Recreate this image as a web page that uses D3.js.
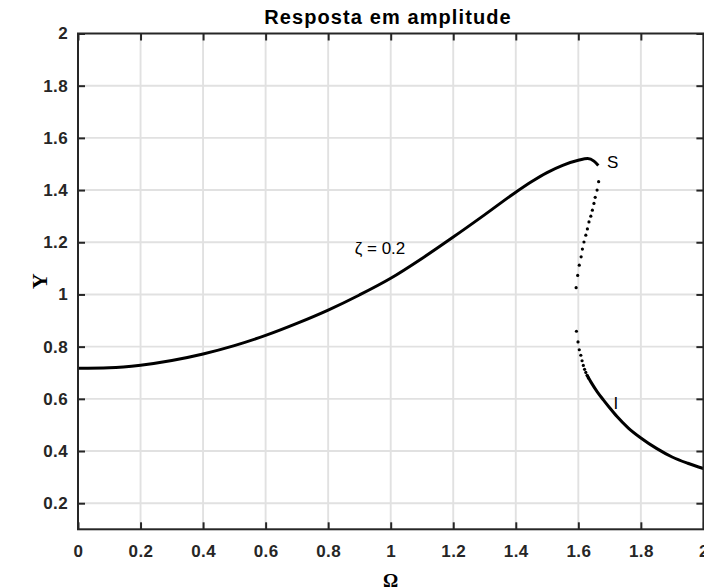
<!DOCTYPE html>
<html>
<head>
<meta charset="utf-8">
<script src="https://cdn.jsdelivr.net/npm/d3@7"></script>
<style>
  body { margin: 0; background: #fff; }
  svg { display: block; }
  .tick text { font-family: "Liberation Sans", Arial, sans-serif; font-weight: bold; font-size: 17px; letter-spacing: 0.4px; fill: #262626; }
</style>
</head>
<body>
<div id="chart"></div>
<script>
////////////////////////////////////////////////////////////////////////
// Data

// stable upper branch (drawn as a line)
let upperOmega = [0, 0.1, 0.2, 0.3, 0.4, 0.5, 0.6, 0.7, 0.8, 0.9, 1.0, 1.1, 1.2, 1.3, 1.4, 1.45, 1.5, 1.55, 1.6, 1.63, 1.65, 1.664];
let upperY     = [0.717, 0.719, 0.729, 0.747, 0.772, 0.804, 0.843, 0.889, 0.940, 0.998, 1.062, 1.138, 1.220, 1.305, 1.392, 1.432, 1.467, 1.495, 1.514, 1.521, 1.511, 1.494];

// unstable branch (dots)
let midOmega = [1.665, 1.660, 1.654, 1.650, 1.645, 1.640, 1.634, 1.629, 1.624, 1.618, 1.613, 1.609, 1.603, 1.598, 1.593];
let midY     = [1.432, 1.400, 1.372, 1.349, 1.323, 1.300, 1.278, 1.251, 1.227, 1.201, 1.174, 1.144, 1.112, 1.073, 1.026];

// start of lower branch (dots)
let lowDotOmega = [1.594, 1.599, 1.603, 1.608, 1.612, 1.616, 1.620, 1.624, 1.628, 1.632];
let lowDotY     = [0.859, 0.818, 0.788, 0.767, 0.746, 0.728, 0.713, 0.701, 0.690, 0.680];

// stable lower branch (line)
let lowOmega = [1.628, 1.64, 1.66, 1.68, 1.70, 1.723, 1.76, 1.80, 1.85, 1.90, 1.95, 2.0];
let lowY     = [0.690, 0.665, 0.628, 0.596, 0.566, 0.533, 0.488, 0.450, 0.410, 0.377, 0.353, 0.333];

let xTicks = [0, 0.2, 0.4, 0.6, 0.8, 1, 1.2, 1.4, 1.6, 1.8, 2];
let yTicks = [0.2, 0.4, 0.6, 0.8, 1, 1.2, 1.4, 1.6, 1.8, 2];

////////////////////////////////////////////////////////////////////////
// svg + scales

let width = 704, height = 588;
let pLeft = 78, pRight = 703.4, pTop = 33.5, pBottom = 529.3;

let svg = d3.select("#chart").append("svg")
  .attr("width", width).attr("height", height);

let xScale = d3.scaleLinear().domain([0, 2]).range([pLeft, pRight]);
let yScale = d3.scaleLinear().domain([0.1, 2]).range([pBottom, pTop]);

let fmt = function(d) { return String(+d.toFixed(1)); };

// grid
svg.append("g").selectAll("line")
  .data(xTicks.slice(1, -1))
  .enter().append("line")
  .attr("x1", xScale).attr("x2", xScale)
  .attr("y1", pTop).attr("y2", pBottom)
  .style("stroke", "#e1e1e1").style("stroke-width", 1.9);

svg.append("g").selectAll("line")
  .data(yTicks.slice(0, -1))
  .enter().append("line")
  .attr("x1", pLeft).attr("x2", pRight)
  .attr("y1", yScale).attr("y2", yScale)
  .style("stroke", "#e1e1e1").style("stroke-width", 1.9);

////////////////////////////////////////////////////////////////////////
// curves

let line = d3.line()
  .x(function(d) { return xScale(d[0]); })
  .y(function(d) { return yScale(d[1]); })
  .curve(d3.curveMonotoneX);

let upper = upperOmega.map(function(w, i) { return [w, upperY[i]]; });
let lower = lowOmega.map(function(w, i) { return [w, lowY[i]]; });

svg.append("path").datum(upper)
  .attr("d", line)
  .style("fill", "none").style("stroke", "#000").style("stroke-width", 3);

svg.append("path").datum(lower)
  .attr("d", line)
  .style("fill", "none").style("stroke", "#000").style("stroke-width", 3);

let dots = midOmega.map(function(w, i) { return [w, midY[i]]; })
  .concat(lowDotOmega.map(function(w, i) { return [w, lowDotY[i]]; }));

svg.append("g").selectAll("circle")
  .data(dots)
  .enter().append("circle")
  .attr("cx", function(d) { return xScale(d[0]); })
  .attr("cy", function(d) { return yScale(d[1]); })
  .attr("r", 1.6)
  .style("fill", "#000");

////////////////////////////////////////////////////////////////////////
// axes (box with inward ticks)

function styleAxis(g) {
  g.select(".domain").remove();
  g.selectAll(".tick line").style("stroke", "#262626").style("stroke-width", 2);
}

svg.append("g")
  .attr("transform", "translate(0," + pBottom + ")")
  .call(d3.axisBottom(xScale).tickValues(xTicks).tickSizeInner(-7).tickSizeOuter(0).tickPadding(16).tickFormat(fmt))
  .call(styleAxis);

svg.append("g")
  .attr("transform", "translate(0," + pTop + ")")
  .call(d3.axisTop(xScale).tickValues(xTicks).tickSizeInner(-7).tickSizeOuter(0).tickFormat(""))
  .call(styleAxis);

svg.append("g")
  .attr("transform", "translate(" + pLeft + ",0)")
  .call(d3.axisLeft(yScale).tickValues(yTicks).tickSizeInner(-7).tickSizeOuter(0).tickPadding(10).tickFormat(fmt))
  .call(styleAxis);

svg.append("g")
  .attr("transform", "translate(" + pRight + ",0)")
  .call(d3.axisRight(yScale).tickValues(yTicks).tickSizeInner(-7).tickSizeOuter(0).tickFormat(""))
  .call(styleAxis);

svg.append("rect")
  .attr("x", pLeft).attr("y", pTop)
  .attr("width", pRight - pLeft).attr("height", pBottom - pTop)
  .style("fill", "none").style("stroke", "#262626").style("stroke-width", 2);

////////////////////////////////////////////////////////////////////////
// texts

svg.append("text")
  .attr("x", 388).attr("y", 24)
  .attr("text-anchor", "middle")
  .style("font-family", "Liberation Sans, Arial, sans-serif")
  .style("font-weight", "bold").style("font-size", "20px")
  .style("letter-spacing", "1.1px")
  .text("Resposta em amplitude");

svg.append("text")
  .attr("x", (pLeft + pRight) / 2).attr("y", 587)
  .attr("text-anchor", "middle")
  .style("font-family", "Liberation Serif, Times New Roman, serif")
  .style("font-weight", "bold").style("font-size", "19px")
  .text("Ω");

svg.append("text")
  .attr("transform", "translate(47," + ((pTop + pBottom) / 2) + ") rotate(-90)")
  .attr("text-anchor", "middle")
  .style("font-family", "Liberation Serif, Times New Roman, serif")
  .style("font-weight", "bold").style("font-size", "22px")
  .text("Y");

let notes = [
  { t: "S", w: 1.71, y: 1.507, size: 17 },
  { t: "I", w: 1.72, y: 0.584, size: 17 },
  { t: "ζ = 0.2", w: 0.966, y: 1.178, size: 17 }
];

svg.selectAll(".note")
  .data(notes)
  .enter().append("text")
  .attr("class", "note")
  .attr("x", function(d) { return xScale(d.w); })
  .attr("y", function(d) { return yScale(d.y); })
  .attr("dy", "0.35em")
  .attr("text-anchor", "middle")
  .style("font-family", "Liberation Sans, Arial, sans-serif")
  .style("font-size", function(d) { return d.size + "px"; })
  .text(function(d) { return d.t; });
</script>
</body>
</html>
